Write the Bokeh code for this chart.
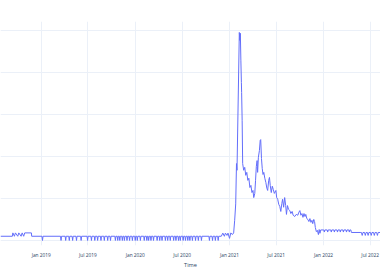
from datetime import datetime
import pandas as pd
from bokeh.plotting import figure
from bokeh.models import Range1d, FixedTicker, DatetimeTickFormatter, Label, ColumnDataSource
from bokeh.embed import file_html
from bokeh.resources import INLINE

# ---- data ----
seg_2018 = [
    ("2018-07-27", 1.0), ("2018-09-11", 1.0), ("2018-09-13", 1.8), ("2018-09-19", 1.0),
    ("2018-09-23", 1.8), ("2018-10-02", 1.0), ("2018-10-06", 1.8), ("2018-10-15", 1.0),
    ("2018-10-19", 1.8), ("2018-10-25", 1.0), ("2018-10-29", 1.8), ("2018-11-24", 1.8),
    ("2018-11-25", 1.0),
]

seg_2019 = [
    ("2019-01-04", 1.0), ("2019-01-06", 0.0), ("2019-01-08", 1.0),
    ("2019-03-17", 1.0), ("2019-03-19", 0.0), ("2019-03-21", 1.0),
    ("2019-04-04", 1.0), ("2019-04-06", 0.0), ("2019-04-08", 1.0),
    ("2019-04-18", 1.0), ("2019-04-20", 0.0), ("2019-04-22", 1.0),
    ("2019-05-01", 1.0), ("2019-05-03", 0.0), ("2019-05-05", 1.0),
    ("2019-05-16", 1.0), ("2019-05-18", 0.0), ("2019-05-20", 1.0),
    ("2019-06-03", 1.0), ("2019-06-05", 0.0), ("2019-06-07", 1.0),
    ("2019-06-28", 1.0), ("2019-06-30", 0.0), ("2019-07-02", 1.0),
    ("2019-07-13", 1.0), ("2019-07-15", 0.0), ("2019-07-17", 1.0),
    ("2019-07-26", 1.0), ("2019-07-28", 0.0), ("2019-07-30", 1.0),
    ("2019-08-06", 1.0), ("2019-08-08", 0.0), ("2019-08-10", 1.0),
    ("2019-08-19", 1.0), ("2019-08-21", 0.0), ("2019-08-23", 1.0),
    ("2019-09-01", 1.0), ("2019-09-03", 0.0), ("2019-09-05", 1.0),
    ("2019-09-14", 1.0), ("2019-09-16", 0.0), ("2019-09-18", 1.0),
    ("2019-09-25", 1.0), ("2019-09-27", 0.0), ("2019-09-29", 1.0),
    ("2019-10-14", 1.0), ("2019-10-16", 0.0), ("2019-10-18", 1.0),
    ("2019-10-23", 1.0), ("2019-10-25", 0.0), ("2019-10-27", 1.0),
    ("2019-10-31", 1.0), ("2019-11-02", 0.0), ("2019-11-04", 1.0),
    ("2019-11-10", 1.0), ("2019-11-12", 0.0), ("2019-11-14", 1.0),
    ("2019-11-18", 1.0), ("2019-11-20", 0.0), ("2019-11-22", 1.0),
    ("2019-11-28", 1.0), ("2019-11-30", 0.0), ("2019-12-02", 1.0),
    ("2019-12-08", 1.0), ("2019-12-10", 0.0), ("2019-12-12", 1.0),
    ("2019-12-19", 1.0), ("2019-12-21", 0.0), ("2019-12-23", 1.0),
]

seg_2020 = [
    ("2019-12-30", 1.0), ("2020-01-01", 0.0), ("2020-01-03", 1.0),
    ("2020-01-07", 1.0), ("2020-01-09", 0.0), ("2020-01-11", 1.0),
    ("2020-01-19", 1.0), ("2020-01-21", 0.0), ("2020-01-23", 1.0),
    ("2020-02-03", 1.0), ("2020-02-05", 0.0), ("2020-02-07", 1.0),
    ("2020-02-13", 1.0), ("2020-02-15", 0.0), ("2020-02-17", 1.0),
    ("2020-02-20", 1.0), ("2020-02-22", 0.0), ("2020-02-24", 1.0),
    ("2020-02-29", 1.0), ("2020-03-02", 0.0), ("2020-03-04", 1.0),
    ("2020-03-10", 1.0), ("2020-03-12", 0.0), ("2020-03-14", 1.0),
    ("2020-03-24", 1.0), ("2020-03-26", 0.0), ("2020-03-28", 1.0),
    ("2020-04-03", 1.0), ("2020-04-05", 0.0), ("2020-04-07", 1.0),
    ("2020-04-12", 1.0), ("2020-04-14", 0.0), ("2020-04-16", 1.0),
    ("2020-04-25", 1.0), ("2020-04-27", 0.0), ("2020-04-29", 1.0),
    ("2020-05-04", 1.0), ("2020-05-06", 0.0), ("2020-05-08", 1.0),
    ("2020-05-14", 1.0), ("2020-05-16", 0.0), ("2020-05-18", 1.0),
    ("2020-05-27", 1.0), ("2020-05-29", 0.0), ("2020-05-31", 1.0),
    ("2020-06-05", 1.0), ("2020-06-07", 0.0), ("2020-06-09", 1.0),
    ("2020-06-15", 1.0), ("2020-06-17", 0.0), ("2020-06-19", 1.0),
    ("2020-06-22", 1.0), ("2020-06-24", 0.0), ("2020-06-26", 1.0),
    ("2020-07-03", 1.0), ("2020-07-05", 0.0), ("2020-07-07", 1.0),
    ("2020-07-12", 1.0), ("2020-07-14", 0.0), ("2020-07-16", 1.0),
    ("2020-07-21", 1.0), ("2020-07-23", 0.0), ("2020-07-25", 1.0),
    ("2020-07-29", 1.0), ("2020-07-31", 0.0), ("2020-08-02", 1.0),
    ("2020-08-08", 1.0), ("2020-08-10", 0.0), ("2020-08-12", 1.0),
    ("2020-08-20", 1.0), ("2020-08-22", 0.0), ("2020-08-24", 1.0),
    ("2020-08-31", 1.0), ("2020-09-02", 0.0), ("2020-09-04", 1.0),
    ("2020-09-12", 1.0), ("2020-09-14", 0.0), ("2020-09-16", 1.0),
    ("2020-10-13", 1.0), ("2020-10-15", 0.0), ("2020-10-17", 1.0),
    ("2020-10-25", 1.0), ("2020-10-27", 0.0), ("2020-10-29", 1.0),
    ("2020-11-05", 1.0), ("2020-11-07", 0.0), ("2020-11-09", 1.0),
    ("2020-11-16", 1.0), ("2020-11-18", 0.0), ("2020-11-20", 1.0),
    ("2020-11-30", 1.0), ("2020-12-06", 1.75), ("2020-12-12", 1.0),
    ("2020-12-16", 1.75), ("2020-12-22", 1.2), ("2020-12-26", 1.75),
]

seg_2021 = [
    ("2021-01-01", 0.5), ("2021-01-06", 1.8), ("2021-01-12", 1.4), ("2021-01-17", 1.8),
    ("2021-01-21", 4.8), ("2021-01-25", 8.7), ("2021-01-28", 18.3), ("2021-01-30", 16.7),
    ("2021-02-08", 49.5), ("2021-02-10", 47.6), ("2021-02-12", 49.3), ("2021-02-14", 42.9),
    ("2021-02-16", 37.6), ("2021-02-17", 35.2), ("2021-02-19", 28.6), ("2021-02-21", 18.3),
    ("2021-02-25", 16.7), ("2021-03-01", 17.4), ("2021-03-05", 15.5), ("2021-03-09", 16.2),
    ("2021-03-13", 14.3), ("2021-03-17", 14.8), ("2021-03-21", 12.6), ("2021-03-25", 13.1),
    ("2021-03-29", 11.4), ("2021-04-02", 11.9), ("2021-04-05", 10.2), ("2021-04-09", 11.2),
    ("2021-04-12", 14.3), ("2021-04-15", 17.6), ("2021-04-18", 19.0), ("2021-04-20", 16.2),
    ("2021-04-23", 19.8), ("2021-04-27", 21.4), ("2021-04-30", 23.8), ("2021-05-02", 24.0),
    ("2021-05-05", 19.5), ("2021-05-08", 17.1), ("2021-05-11", 15.7), ("2021-05-14", 16.2),
    ("2021-05-18", 14.8), ("2021-05-22", 13.8), ("2021-05-26", 12.4), ("2021-05-29", 11.9),
    ("2021-06-02", 14.3), ("2021-06-05", 15.0), ("2021-06-08", 13.1), ("2021-06-12", 11.4),
    ("2021-06-16", 12.9), ("2021-06-20", 12.1), ("2021-06-24", 11.2), ("2021-06-30", 11.9),
    ("2021-07-03", 10.2), ("2021-07-07", 9.8), ("2021-07-11", 8.6), ("2021-07-15", 8.1),
    ("2021-07-19", 6.9), ("2021-07-23", 8.8), ("2021-07-26", 9.8), ("2021-07-30", 7.9),
    ("2021-08-03", 10.2), ("2021-08-07", 8.3), ("2021-08-10", 6.2), ("2021-08-14", 8.3),
    ("2021-08-18", 7.4), ("2021-08-23", 7.1), ("2021-08-27", 6.4), ("2021-09-01", 6.9),
    ("2021-09-05", 6.0), ("2021-09-11", 5.7), ("2021-09-17", 6.2), ("2021-09-23", 6.0),
    ("2021-09-27", 6.7), ("2021-10-01", 7.1), ("2021-10-05", 6.0), ("2021-10-09", 6.4),
    ("2021-10-13", 5.5), ("2021-10-17", 6.4), ("2021-10-21", 5.7), ("2021-10-24", 6.2),
    ("2021-10-28", 5.2), ("2021-11-01", 5.0), ("2021-11-05", 4.5), ("2021-11-09", 5.2),
    ("2021-11-13", 4.3), ("2021-11-17", 4.8), ("2021-11-20", 4.0), ("2021-11-24", 5.0),
    ("2021-11-27", 4.5), ("2021-11-30", 3.1), ("2021-12-04", 2.1), ("2021-12-08", 2.4),
    ("2021-12-12", 1.4), ("2021-12-15", 2.6), ("2021-12-18", 1.7), ("2021-12-21", 2.5),
]

seg_2022 = [
    ("2022-01-02", 2.5), ("2022-01-04", 2.0), ("2022-01-06", 2.5),
    ("2022-01-15", 2.5), ("2022-01-17", 2.0), ("2022-01-19", 2.5),
    ("2022-01-29", 2.5), ("2022-01-31", 2.0), ("2022-02-02", 2.5),
    ("2022-02-10", 2.5), ("2022-02-12", 2.0), ("2022-02-14", 2.5),
    ("2022-02-22", 2.5), ("2022-02-24", 2.0), ("2022-02-26", 2.5),
    ("2022-03-05", 2.5), ("2022-03-07", 2.0), ("2022-03-09", 2.5),
    ("2022-03-17", 2.5), ("2022-03-19", 2.0), ("2022-03-21", 2.5),
    ("2022-03-29", 2.5), ("2022-03-31", 2.0), ("2022-04-02", 2.5),
    ("2022-04-09", 2.5), ("2022-04-11", 2.0), ("2022-04-13", 2.5),
    ("2022-04-17", 2.5), ("2022-04-19", 1.9), ("2022-05-23", 1.9),
    ("2022-05-28", 1.9), ("2022-05-31", 1.2), ("2022-06-03", 1.9),
    ("2022-06-09", 1.9), ("2022-06-12", 1.2), ("2022-06-15", 1.9),
    ("2022-06-20", 1.9), ("2022-06-23", 1.2), ("2022-06-26", 1.9),
    ("2022-07-02", 1.9), ("2022-07-05", 1.2), ("2022-07-08", 1.9),
    ("2022-07-14", 1.9), ("2022-07-17", 1.2), ("2022-07-20", 1.9),
    ("2022-07-26", 1.9), ("2022-07-29", 1.2), ("2022-08-01", 1.9),
    ("2022-08-10", 1.9),
]

tick_dates = ["2018-07-01", "2019-01-01", "2019-07-01", "2020-01-01", "2020-07-01",
              "2021-01-01", "2021-07-01", "2022-01-01", "2022-07-01"]
y_grid_values = [0, 10, 20, 30, 40, 50]
x_title = "Time"

# ---- build ----
rows = seg_2018 + seg_2019 + seg_2020 + seg_2021 + seg_2022
df = pd.DataFrame(rows, columns=["time", "value"])
df["time"] = pd.to_datetime(df["time"])
source = ColumnDataSource(df)

def ms(s):
    return pd.Timestamp(s).timestamp() * 1000.0

FONT = "Open Sans"
TXT = "#2a3f5f"
GRID = "#EBF0F8"

p = figure(width=380, height=280, x_axis_type="datetime", y_axis_location=None,
           output_backend="svg", toolbar_location=None,
           x_range=Range1d(datetime(2018, 7, 27), datetime(2022, 8, 10)),
           y_range=Range1d(-1.2, 52.1),
           min_border_left=0, min_border_right=0, min_border_top=21, min_border_bottom=35)
p.outline_line_color = None
p.background_fill_color = "white"
p.border_fill_color = "white"

p.line("time", "value", source=source, line_color="#636efa", line_width=1.0)

ax = p.xaxis[0]
ax.ticker = FixedTicker(ticks=[ms(d) for d in tick_dates])
fmt = "%b %Y"
ax.formatter = DatetimeTickFormatter(milliseconds=fmt, seconds=fmt, minsec=fmt, minutes=fmt,
                                     hourmin=fmt, hours=fmt, days=fmt, months=fmt, years=fmt)
ax.axis_line_color = None
ax.major_tick_line_color = None
ax.minor_tick_line_color = None
ax.major_tick_out = 0
ax.major_tick_in = 0
ax.minor_tick_out = 0
ax.minor_tick_in = 0
ax.major_label_text_font = FONT
ax.major_label_text_font_size = "4.8px"
ax.major_label_text_color = TXT
ax.major_label_standoff = 6
ax.axis_label = x_title
ax.axis_label_text_font = FONT
ax.axis_label_text_font_size = "5.6px"
ax.axis_label_text_font_style = "normal"
ax.axis_label_text_color = TXT
ax.axis_label_standoff = 0

p.xgrid.grid_line_color = GRID
p.xgrid.grid_line_width = 1
p.ygrid.ticker = FixedTicker(ticks=y_grid_values)
p.ygrid.grid_line_color = GRID
p.ygrid.grid_line_width = 1

# first tick label, partly outside the plotted range (as in the reference)
p.add_layout(Label(x=ms(tick_dates[0]), y=-3.3, text=pd.Timestamp(tick_dates[0]).strftime(fmt),
                   text_align="center", text_baseline="middle", text_font=FONT,
                   text_font_size="4.8px", text_color=TXT))

open("out.html", "w").write(file_html(p, INLINE))
